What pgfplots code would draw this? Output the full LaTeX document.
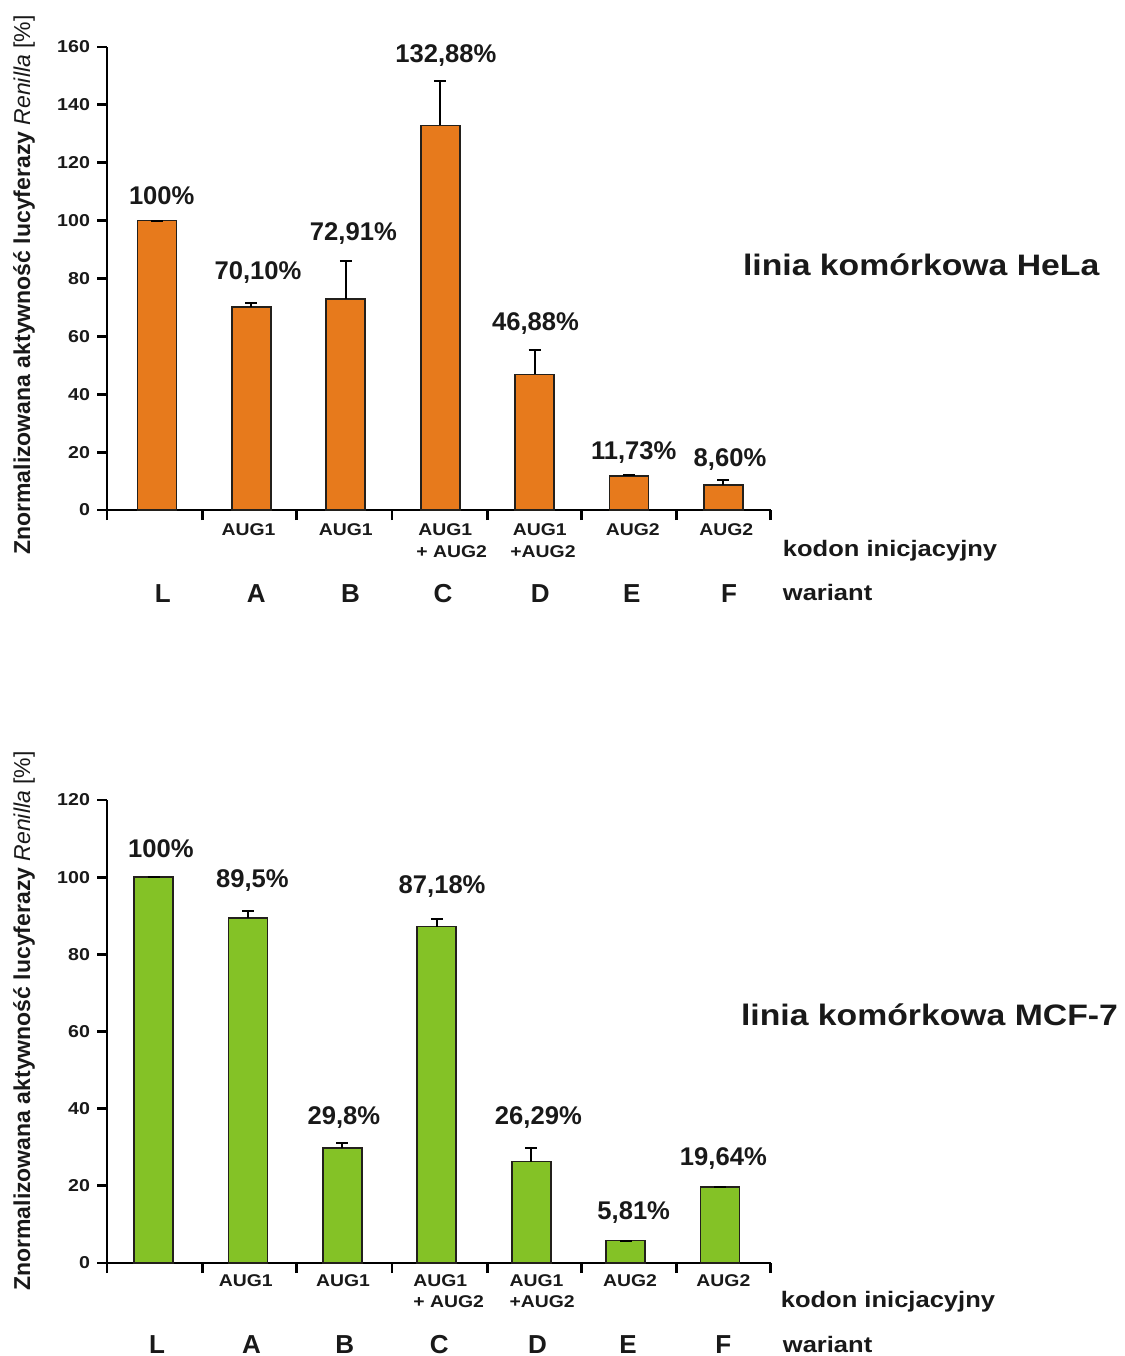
\documentclass[border=0pt]{standalone}
\usepackage{pgfplots}
\pgfplotsset{compat=1.18}
\usepackage{fontspec}
\setmainfont{Liberation Sans}[FakeStretch=1.14]
\newfontfamily\nsfont{Liberation Sans}
\definecolor{barorange}{RGB}{231,122,28}
\definecolor{bargreen}{RGB}{132,194,38}
\definecolor{outl}{RGB}{35,32,28}
\definecolor{txt}{RGB}{25,25,25}

\pgfplotsset{
  panel/.style={
    scale only axis, width=331.8pt, height=231.5pt,
    anchor=south west,
    xmin=-0.53, xmax=6.5, ymin=0,
    axis lines=left,
    axis line style={-, line width=1.4pt, black},
    xtick={-0.53,0.48,1.48,2.49,3.5,4.5,5.5,6.5},
    xticklabels={},
    tick align=outside, major tick length=5pt,
    tick style={line width=1.4pt, black},
    yticklabel style={font=\bfseries\fontsize{8.6}{10}\selectfont, text=txt},
    /pgf/number format/assume math mode=true,
    clip=false,
  },
  barstyle/.style={ybar, bar width=19.5pt, draw=outl, line width=0.85pt,
    error bars/y dir=plus, error bars/y explicit,
    error bars/error bar style={line width=1pt, black},
    error bars/error mark options={rotate=90, mark size=3pt, line width=1pt, black}},
}
\tikzset{
  vl/.style={font=\nsfont\bfseries\fontsize{12.8}{14}\selectfont, anchor=base, inner sep=0pt, text=txt},
  aug/.style={font=\bfseries\fontsize{8.5}{10}\selectfont, inner sep=0pt, text=txt},
  varl/.style={font=\nsfont\bfseries\fontsize{13}{15}\selectfont, anchor=base, inner sep=0pt, text=txt},
  side/.style={font=\bfseries\fontsize{11.2}{13}\selectfont, anchor=base west, inner sep=0pt, text=txt},
}

\begin{document}
\begin{tikzpicture}
\useasboundingbox (0,0) rectangle (562.5pt,-678pt);

% ---------- HeLa ----------
\begin{axis}[panel, at={(53.5pt,-255pt)}, ymax=160, ytick={0,20,...,160}]
\addplot[barstyle, fill=barorange] table[x=x, y=y, y error=e] {
x y e
0 100 0
1 70.10 1.6
2 72.91 13.2
3 132.88 15.3
4 46.88 8.5
5 11.73 0.3
6 8.60 1.6
};
\node[vl] at (axis cs:0.05,105.7) {100\%};
\node[vl] at (axis cs:1.07,79.5) {70,10\%};
\node[vl] at (axis cs:2.08,93.3) {72,91\%};
\node[vl] at (axis cs:3.06,154.8) {132,88\%};
\node[vl] at (axis cs:4.01,61.9) {46,88\%};
\node[vl] at (axis cs:5.05,17.6) {11,73\%};
\node[vl] at (axis cs:6.07,14.9) {8,60\%};
% initiation codons
\node[aug, anchor=base] at ([yshift=-12.5pt]axis cs:0.97,0) {AUG1};
\node[aug, anchor=base] at ([yshift=-12.5pt]axis cs:2.0,0) {AUG1};
\node[aug, anchor=base west] at ([yshift=-12.5pt]axis cs:2.765,0) {AUG1};
\node[aug, anchor=base west] at ([yshift=-23.5pt]axis cs:2.744,0) {+ AUG2};
\node[aug, anchor=base west] at ([yshift=-12.5pt]axis cs:3.766,0) {AUG1};
\node[aug, anchor=base west] at ([yshift=-23.5pt]axis cs:3.739,0) {+AUG2};
\node[aug, anchor=base] at ([yshift=-12.5pt]axis cs:5.04,0) {AUG2};
\node[aug, anchor=base] at ([yshift=-12.5pt]axis cs:6.03,0) {AUG2};
\node[side] at ([yshift=-23pt]axis cs:6.626,0) {kodon inicjacyjny};
% variants
\node[varl] at ([yshift=-46pt]axis cs:0.06,0) {L};
\node[varl] at ([yshift=-46pt]axis cs:1.05,0) {A};
\node[varl] at ([yshift=-46pt]axis cs:2.05,0) {B};
\node[varl] at ([yshift=-46pt]axis cs:3.03,0) {C};
\node[varl] at ([yshift=-46pt]axis cs:4.06,0) {D};
\node[varl] at ([yshift=-46pt]axis cs:5.03,0) {E};
\node[varl] at ([yshift=-46pt]axis cs:6.06,0) {F};
\node[side] at ([yshift=-45pt]axis cs:6.626,0) {wariant};
\end{axis}

% ---------- MCF-7 ----------
\begin{axis}[panel, at={(53.5pt,-631.5pt)}, ymax=120, ytick={0,20,...,120}]
\addplot[barstyle, fill=bargreen] table[x=x, y=y, y error=e] {
x y e
-0.036 100 0
0.964 89.5 1.7
1.964 29.8 1.4
2.964 87.18 2.0
3.964 26.29 3.4
4.964 5.81 0
5.964 19.64 0
};
\node[vl] at (axis cs:0.04,105.0) {100\%};
\node[vl] at (axis cs:1.01,97.4) {89,5\%};
\node[vl] at (axis cs:1.98,36.0) {29,8\%};
\node[vl] at (axis cs:3.02,95.9) {87,18\%};
\node[vl] at (axis cs:4.04,36.0) {26,29\%};
\node[vl] at (axis cs:5.05,11.4) {5,81\%};
\node[vl] at (axis cs:6.0,25.4) {19,64\%};
\node[aug, anchor=base] at ([yshift=-11.5pt]axis cs:0.94,0) {AUG1};
\node[aug, anchor=base] at ([yshift=-11.5pt]axis cs:1.97,0) {AUG1};
\node[aug, anchor=base west] at ([yshift=-11.5pt]axis cs:2.712,0) {AUG1};
\node[aug, anchor=base west] at ([yshift=-22pt]axis cs:2.712,0) {+ AUG2};
\node[aug, anchor=base west] at ([yshift=-11.5pt]axis cs:3.73,0) {AUG1};
\node[aug, anchor=base west] at ([yshift=-22pt]axis cs:3.73,0) {+AUG2};
\node[aug, anchor=base] at ([yshift=-11.5pt]axis cs:5.01,0) {AUG2};
\node[aug, anchor=base] at ([yshift=-11.5pt]axis cs:6.0,0) {AUG2};
\node[side] at ([yshift=-22pt]axis cs:6.604,0) {kodon inicjacyjny};
\node[varl] at ([yshift=-45pt]axis cs:0.0,0) {L};
\node[varl] at ([yshift=-45pt]axis cs:1.0,0) {A};
\node[varl] at ([yshift=-45pt]axis cs:1.99,0) {B};
\node[varl] at ([yshift=-45pt]axis cs:2.99,0) {C};
\node[varl] at ([yshift=-45pt]axis cs:4.03,0) {D};
\node[varl] at ([yshift=-45pt]axis cs:4.99,0) {E};
\node[varl] at ([yshift=-45pt]axis cs:6.0,0) {F};
\node[side] at ([yshift=-44.5pt]axis cs:6.626,0) {wariant};
\end{axis}

% y labels
\node[rotate=90, inner sep=0pt, text=txt, font=\nsfont\fontsize{11.5}{13}\selectfont] at (12pt,-142.5pt)
  {\bfseries Znormalizowana aktywność lucyferazy \mdseries\itshape Renilla\upshape{} [\%]};
\node[rotate=90, inner sep=0pt, text=txt, font=\nsfont\fontsize{11.5}{13}\selectfont] at (12pt,-510.5pt)
  {\bfseries Znormalizowana aktywność lucyferazy \mdseries\itshape Renilla\upshape{} [\%]};

% cell line titles
\node[anchor=base west, inner sep=0pt, text=txt, font=\bfseries\fontsize{14.8}{17}\selectfont] at (371.35pt,-137.5pt) {linia komórkowa HeLa};
\node[anchor=base west, inner sep=0pt, text=txt, font=\bfseries\fontsize{14.8}{17}\selectfont] at (370.35pt,-512.5pt) {linia komórkowa MCF-7};
\end{tikzpicture}
\end{document}
